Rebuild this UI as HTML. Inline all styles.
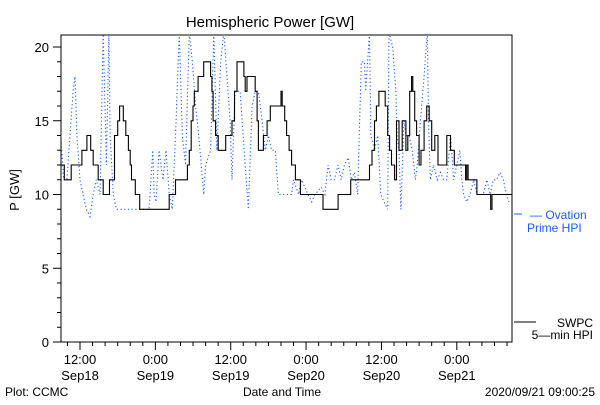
<!DOCTYPE html>
<html><head><meta charset="utf-8"><style>
body{margin:0;background:#fff;}
svg text{font-family:"Liberation Sans",sans-serif;}
</style></head><body>
<svg id="chart" width="600" height="400" viewBox="0 0 600 400" xmlns="http://www.w3.org/2000/svg">
<rect width="600" height="400" fill="#fff"/>
<text x="270" y="27" font-size="15" text-anchor="middle">Hemispheric Power [GW]</text>
<text transform="translate(19,190) rotate(-90)" font-size="13" text-anchor="middle">P [GW]</text>
<text x="282" y="396" font-size="12" text-anchor="middle">Date and Time</text>
<text x="5" y="396" font-size="12">Plot: CCMC</text>
<text x="595" y="396" font-size="12" text-anchor="end">2020/09/21 09:00:25</text>
<g fill="#1a5cff" font-size="12">
<line x1="514" y1="214" x2="522" y2="214" stroke="#1a5cff"/>
<text x="530" y="219">— Ovation</text>
<text x="527" y="232">Prime HPI</text>
</g>
<g font-size="12">
<line x1="514" y1="322" x2="536" y2="322" stroke="#000"/>
<text x="593" y="327" text-anchor="end">SWPC</text>
<text x="593" y="339" text-anchor="end">5—min HPI</text>
</g>
<g id="axes"></g>
<g id="series"></g>
</svg>
<script>
const yTicks=[0,5,10,15,20];
const xTickHours=[12,24,36,48,60,72];
const xTickTop=["12:00","0:00","12:00","0:00","12:00","0:00"];
const xTickBottom=["Sep18","Sep19","Sep19","Sep20","Sep20","Sep21"];
const swpcT=[8.8,9.5,10.6,12.3,13.1,13.7,14.1,14.9,15.7,16.7,17.5,18.0,18.3,18.9,19.3,19.7,20.0,20.2,20.8,21.5,26.2,27.2,29.1,29.4,29.7,30.0,30.2,30.8,31.7,32.8,33.0,33.2,33.6,34.0,35.2,36.2,36.6,37.0,38.1,38.3,38.6,39.9,40.2,40.4,41.2,41.8,42.3,43.6,44.0,44.2,44.6,44.9,45.3,45.7,46.3,47.1,50.7,53.1,55.1,58.1,58.5,58.9,59.2,59.6,60.6,61.0,61.3,61.6,62.1,62.4,62.8,63.3,63.9,64.2,64.5,64.8,65.0,65.3,65.6,66.0,66.3,66.8,67.2,67.6,68.0,68.5,69.0,70.4,71.0,71.6,73.4,73.6,73.8,75.2,77.4,77.6,80.8];
const swpcV=[12,11,12,13,14,13,12,11,10,11,14,15,16,15,14,13,12,11,10,9,10,11,12,13,15,16,17,18,19,18,17,15,14,13,14,15,17,19,18,17,18,17,15,13,14,15,16,16,17,16,15,14,13,12,11,10,9,10,11,12,13,15,16,17,16,14,13,12,11,15,13,15,13,14,17,18,17,15,14,12,13,15,16,15,13,14,12,14,13,12,11,12,11,10,9,10,10];
const ovT=[8.8,9.4,9.9,10.4,10.9,11.2,11.5,12.0,12.5,13.0,13.6,14.1,14.6,15.2,15.4,15.7,16.2,16.6,16.8,17.3,17.8,18.3,21.5,23.0,23.6,23.8,24.1,24.6,25.2,25.7,26.2,26.7,27.3,27.8,28.3,28.8,29.4,29.9,30.4,30.9,31.5,31.7,32.0,32.8,33.3,33.8,34.4,34.9,35.4,35.9,36.2,36.7,37.5,38.3,38.8,39.4,39.9,40.4,41.0,41.5,42.0,42.5,43.1,43.6,45.7,46.0,46.8,47.3,48.3,48.9,49.4,50.4,51.0,51.5,52.0,52.5,53.1,53.6,54.1,54.7,55.2,55.7,56.2,56.8,57.3,57.5,58.1,58.3,58.9,59.4,59.9,60.4,61.0,61.2,61.8,62.3,62.5,62.8,63.1,63.6,63.9,64.4,64.9,65.4,65.7,66.2,66.8,67.3,67.5,67.8,68.3,68.9,69.4,69.9,70.4,71.0,71.5,72.0,72.5,72.8,73.1,73.6,74.1,74.7,75.2,76.2,76.8,77.3,77.8,78.3,78.9,79.4,79.9,80.3];
const ovV=[15,11,11,14,17,18,14,11,10,9,8.5,10,11,10,15,21,12,21,14,10,9,9,9,9,13,10,9.5,13,11,13,10,9,15,21,14,12,21,19,16,14,11,10,12,13,21,13,19,21,18,15,11,17,17,12,9,16,17,17,15,13,14,13,13,10,10,11,10,11,10,9.5,10,10.5,10,12,11,11,12,11,12,12.5,11,11.5,10,19,19,17,21,14,13,14,10,9.5,9,21,20,17,14,13,9,15,14,14,13,11,12,15,18,21,15,11,12,11,11.5,11,11,14,11,12,13,11,10,9.5,10,11,10,10,11,10,11,11,11.5,11,10,9.5];

const NS="http://www.w3.org/2000/svg";
const L=61,R=512,T=35,B=342;
const xs=t=>80+(t-12)*6.28;
const ys=v=>342-v*14.75;
function mk(tag,attrs,parent){const e=document.createElementNS(NS,tag);for(const k in attrs)e.setAttribute(k,attrs[k]);parent.appendChild(e);return e;}
const axes=document.getElementById('axes'),ser=document.getElementById('series');
const frame=mk('rect',{x:L,y:T,width:R-L,height:B-T,fill:'none',stroke:'#000'},axes);


for(let v=0;v<=20;v++){
  const len=v%5===0?8:4;
  const tk=mk('line',{x1:L-len,x2:L,y1:ys(v),y2:ys(v),stroke:'#000'},axes);
  
  
}
yTicks.forEach(v=>{
  const t=mk('text',{x:L-12,y:ys(v)+5,'font-size':13,'text-anchor':'end'},axes);t.textContent=v;
  
  
});
for(let h=10;h<=80;h+=2){
  const len=h%12===0?8:4;
  const tk=mk('line',{x1:xs(h),x2:xs(h),y1:B,y2:B+len,stroke:'#000'},axes);
  
  
}
xTickHours.forEach((h,i)=>{
  const a=mk('text',{x:xs(h),y:364,'font-size':13,'text-anchor':'middle'},axes);a.textContent=xTickTop[i];
  
  
  const b=mk('text',{x:xs(h),y:380,'font-size':13,'text-anchor':'middle'},axes);b.textContent=xTickBottom[i];
  
  
});
const defs=mk('defs',{},ser);
const cp=mk('clipPath',{id:'clip'},defs);
mk('rect',{x:L,y:T,width:R-L,height:B-T},cp);
let pts=ovT.map((t,i)=>xs(t).toFixed(1)+','+ys(ovV[i]).toFixed(1)).join(' ');
const ov=mk('polyline',{points:pts,fill:'none',stroke:'#1a5cff','stroke-width':1.1,'stroke-dasharray':'1.2 2.5','clip-path':'url(#clip)'},ser);


let d='';
for(let i=0;i<swpcV.length;i++){
  const x0=Math.max(L,xs(swpcT[i])),x1=Math.min(R,xs(swpcT[i+1])),y=ys(swpcV[i]);
  d+=(i===0?'M':'L')+x0.toFixed(1)+','+y.toFixed(1)+' L'+x1.toFixed(1)+','+y.toFixed(1)+' ';
}
const sw=mk('path',{d:d,fill:'none',stroke:'#000','stroke-width':1.1,'clip-path':'url(#clip)'},ser);


</script>
</body></html>
